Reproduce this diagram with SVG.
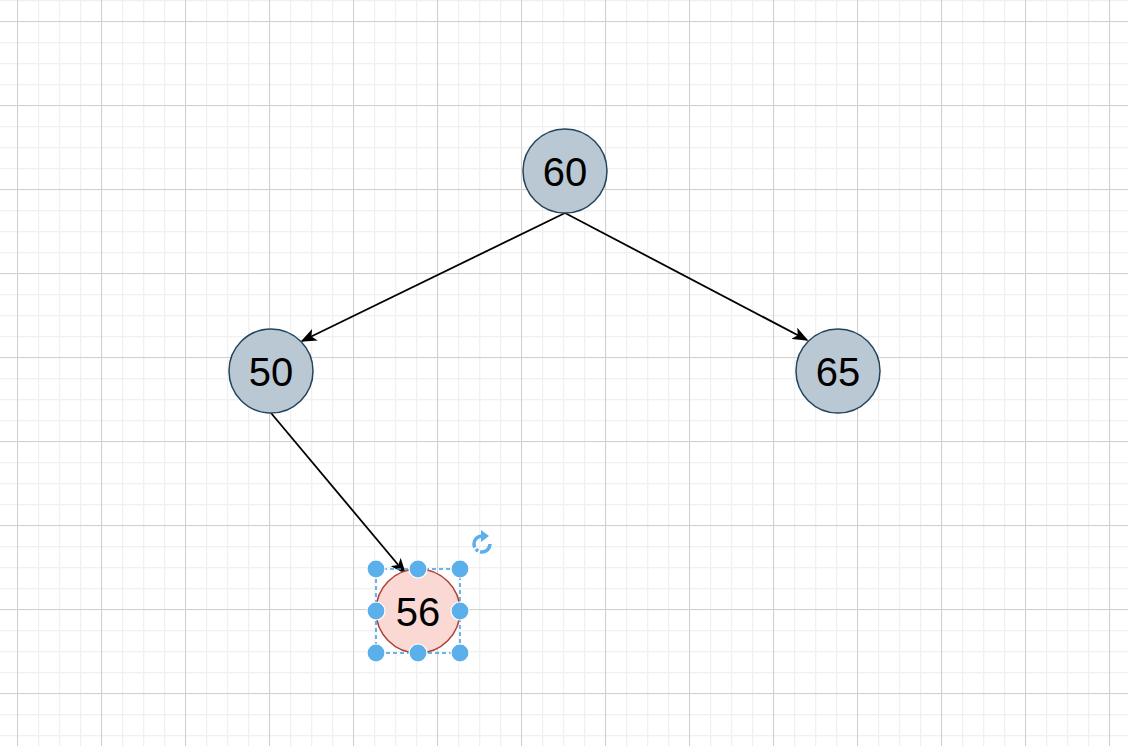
<svg xmlns="http://www.w3.org/2000/svg" width="1128" height="746" viewBox="0 0 1128 746">
<defs>
<pattern id="minor" x="17" y="0" width="21" height="21" patternUnits="userSpaceOnUse">
<path d="M0,0.5 H21 M0.5,0 V21" fill="none" stroke="#f0f0f0" stroke-width="1.5"/>
</pattern>
<pattern id="major" x="17" y="21" width="84" height="84" patternUnits="userSpaceOnUse">
<path d="M0,0.5 H84 M0.5,0 V84" fill="none" stroke="#d0d0d0" stroke-width="1"/>
</pattern>
<marker id="arr" viewBox="0 0 10 8" refX="9" refY="4" markerWidth="16" markerHeight="12.8" markerUnits="userSpaceOnUse" orient="auto">
<path d="M0,0 L10,4 L0,8 L2.5,4 Z" fill="#000"/>
</marker>
</defs>
<style>
.node-blue{fill:#bac8d3;stroke:#23445d;stroke-width:1.5}
.node-red{fill:#fad9d5;stroke:#ae4132;stroke-width:1.5}
.lbl{font-family:"Liberation Sans",Arial,sans-serif;font-size:40px;fill:#000;text-anchor:middle;dominant-baseline:central}
.edge{fill:none;stroke:#000;stroke-width:1.8;marker-end:url(#arr)}
.handle{fill:#5bafea;stroke:#fff;stroke-width:1.2}
</style>
<rect width="1128" height="746" fill="#fff"/>
<rect width="1128" height="746" fill="url(#minor)"/>
<rect width="1128" height="746" fill="url(#major)"/>
<g id="connectors">
<path class="edge" d="M565,213 L302,341"/>
<path class="edge" d="M565,213 L807,340"/>
<path class="edge" d="M271,413 L405,573"/>
</g>
<g id="n60"><circle class="node-blue" cx="565" cy="171" r="42"/><text class="lbl" x="565" y="172">60</text></g>
<g id="n50"><circle class="node-blue" cx="271" cy="371" r="42"/><text class="lbl" x="271" y="372">50</text></g>
<g id="n65"><circle class="node-blue" cx="838" cy="371" r="42"/><text class="lbl" x="838" y="372">65</text></g>
<g id="n56"><circle class="node-red" cx="418" cy="611" r="42"/><text class="lbl" x="418" y="612">56</text></g>
<g id="selection">
<rect x="376" y="569" width="84" height="84" fill="none" stroke="#3d9ae0" stroke-width="1.5" stroke-dasharray="4,3"/>
<circle class="handle" cx="376" cy="569" r="9"/>
<circle class="handle" cx="418" cy="569" r="9"/>
<circle class="handle" cx="460" cy="569" r="9"/>
<circle class="handle" cx="376" cy="611" r="9"/>
<circle class="handle" cx="460" cy="611" r="9"/>
<circle class="handle" cx="376" cy="653" r="9"/>
<circle class="handle" cx="418" cy="653" r="9"/>
<circle class="handle" cx="460" cy="653" r="9"/>
<path d="M482,536 A8,8 0 1 0 490,544" fill="none" stroke="#5bafea" stroke-width="3.5" stroke-dasharray="16,2,3,2"/>
<path d="M481,530 L489,536 L481,542 Z" fill="#5bafea"/>
</g>
</svg>
